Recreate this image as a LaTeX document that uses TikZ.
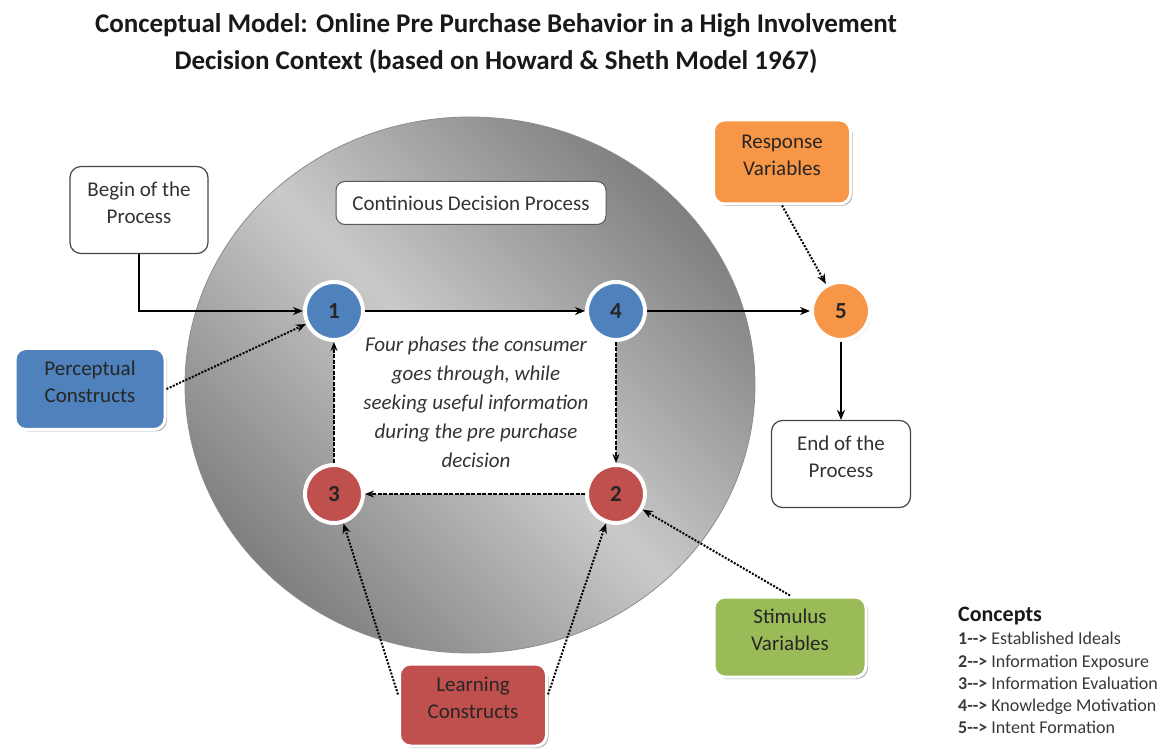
\documentclass[tikz,border=0pt]{standalone}
\usepackage{fontspec}
\setmainfont{Carlito}
\usetikzlibrary{arrows.meta,shadows,shapes.geometric}
\definecolor{cblue}{HTML}{4F81BD}
\definecolor{cred}{HTML}{C0504D}
\definecolor{corange}{HTML}{F79646}
\definecolor{cgreen}{HTML}{9BBB59}
\pgfdeclarehorizontalshading{bigband}{100bp}{color(0bp)=(black!52); color(25bp)=(black!50); color(38bp)=(black!35); color(50bp)=(black!21); color(62bp)=(black!35); color(75bp)=(black!50); color(100bp)=(black!52)}
\newcommand\cArr{\mbox{-}\mbox{-}>}
\newcommand\lowpad{\\[-13pt]\mbox{}}
\tikzset{
  titletext/.style={font=\bfseries\fontsize{27}{27}\selectfont, text=black!90, inner sep=0pt},
  phase/.style={circle, minimum size=58pt, inner sep=0pt, draw=white, line width=4pt,
    font=\bfseries\fontsize{23}{23}\selectfont, text=black!85,
    drop shadow={shadow xshift=1.5pt, shadow yshift=-1.5pt, opacity=0.35, fill=black}},
  plainbox/.style={draw=black!72, line width=1.2pt, fill=white, rounded corners=11pt, align=center,
    font=\fontsize{21}{27}\selectfont, text=black!80},
  colbox/.style={draw=white, line width=3pt, rounded corners=11pt, align=center,
    font=\fontsize{21}{27}\selectfont, text=black!85,
    drop shadow={shadow xshift=2pt, shadow yshift=-2pt, opacity=0.3, fill=black}},
  solidarr/.style={-{Stealth[length=10pt,width=8pt]}, line width=1.6pt, black},
  dasharr/.style={-{Stealth[length=9pt,width=7pt]}, line width=1.5pt, black, dash pattern=on 4pt off 1.5pt},
  dotarr/.style={-{Stealth[length=10pt,width=8pt]}, line width=2pt, black, dash pattern=on 2pt off 1.5pt},
}
\begin{document}
\begin{tikzpicture}[x=1pt,y=-1pt]
\useasboundingbox (0,0) rectangle (1163,751);
% title
\node[titletext] (t1) at (496,25) {Conceptual Model: Online Pre Purchase Behavior in a High Involvement};
\node[titletext] (t2) at (496,62) {Decision Context (based on Howard \& Sheth Model 1967)};
% big circle
\node[ellipse, minimum width=570pt, minimum height=536pt, inner sep=0pt, shading=bigband, shading angle=45,
  draw=black!45, line width=0.8pt] (ball) at (470,385) {};
% positions of phases
\coordinate (p1) at (334,311);
\coordinate (p4) at (616,311);
\coordinate (p5) at (841,311);
\coordinate (p2) at (616,494);
\coordinate (p3) at (334,494);
\fill[white] (p1) rectangle (p2);
% inner text
\node[align=center, font=\itshape\fontsize{21}{29}\selectfont, text=black!80] (inner) at (476,402) {Four phases the consumer\\goes through, while\\seeking useful information\\during the pre purchase\\decision};
% boxes
\node[plainbox, minimum width=138pt, minimum height=87pt] (begin) at (139,210) {Begin of the\\Process\lowpad};
\node[plainbox, line width=1pt, draw=black!65, rounded corners=9pt, minimum width=270pt, minimum height=43pt] (cont) at (471,203) {Continious Decision Process};
\node[colbox, fill=cblue, minimum width=150pt, minimum height=81pt] (perc) at (90,389) {Perceptual\\Constructs\lowpad};
\node[colbox, fill=corange, minimum width=137pt, minimum height=84pt] (resp) at (782,162) {Response\\Variables\lowpad};
\node[plainbox, minimum width=139pt, minimum height=87pt] (end) at (841,464) {End of the\\Process\lowpad};
\node[colbox, fill=cgreen, minimum width=152pt, minimum height=80pt] (stim) at (790,637) {Stimulus\\Variables\lowpad};
\node[colbox, fill=cred, minimum width=147pt, minimum height=82pt] (learn) at (473,705) {Learning\\Constructs\lowpad};
% phases
\node[phase, fill=cblue] (c1) at (p1) {1};
\node[phase, fill=cblue] (c4) at (p4) {4};
\node[phase, fill=corange] (c5) at (p5) {5};
\node[phase, fill=cred] (c2) at (p2) {2};
\node[phase, fill=cred] (c3) at (p3) {3};
% connectors
\draw[solidarr] (begin.south) |- (c1);
\draw[solidarr] (c1) -- (c4);
\draw[solidarr] (c4) -- (c5);
\draw[solidarr] (c5) -- (end);
\draw[dasharr] (c4) -- (c2);
\draw[dasharr] (c2) -- (c3);
\draw[dasharr] (c3) -- (c1);
\draw[dotarr] (perc.east) -- (c1);
\draw[dotarr] (resp.south) -- (c5);
\draw[dotarr] (stim.north) -- (c2);
\draw[dotarr] (learn.172) -- (c3);
\draw[dotarr] (learn.8) -- (c2);
% legend
\node[anchor=north west, inner sep=0pt, font=\bfseries\fontsize{22}{22}\selectfont, text=black!90] (lgt) at (958,607) {Concepts};
\node[anchor=north west, inner sep=0pt, align=left, font=\fontsize{18}{22.3}\selectfont, text=black!78] (lg) at (958,632)
  {\textbf{1\cArr} Established Ideals\\\textbf{2\cArr} Information Exposure\\\textbf{3\cArr} Information Evaluation\\\textbf{4\cArr} Knowledge Motivation\\\textbf{5\cArr} Intent Formation};
\end{tikzpicture}
\end{document}
